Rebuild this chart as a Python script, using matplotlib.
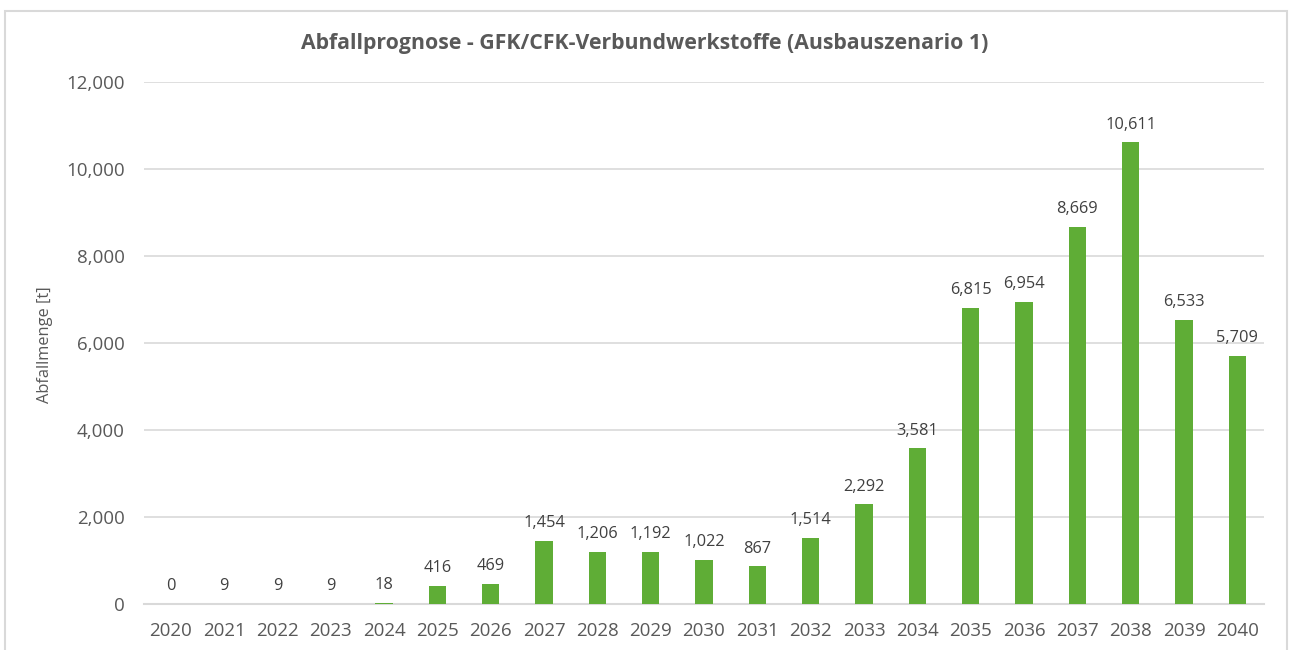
import matplotlib.pyplot as plt
import matplotlib.patches as mpatches
import numpy as np
from matplotlib.ticker import FuncFormatter

jahre = [str(j) for j in range(2020, 2041)]
abfall = [0, 9, 9, 9, 18, 416, 469, 1454, 1206, 1192, 1022, 867,
          1514, 2292, 3581, 6815, 6954, 8669, 10611, 6533, 5709]

textfarbe = '#595959'
balkenfarbe = '#5FAD36'
gitterfarbe = '#D9D9D9'

plt.rcParams['font.family'] = ['Open Sans', 'DejaVu Sans']

fig = plt.figure(figsize=(12.9, 6.5), dpi=100)
# Rahmen um das Diagramm
fig.patches.append(mpatches.Rectangle((5/1290, -0.1), 1282/1290, 1.1 - 11/650,
                                      transform=fig.transFigure, fill=False,
                                      edgecolor=gitterfarbe, linewidth=1.5))

ax = fig.add_axes([144/1290, 1 - 604/650, 1120/1290, 522/650])
x = np.arange(len(jahre))
ax.bar(x, abfall, width=0.32, color=balkenfarbe, zorder=3)

for xi, v in zip(x, abfall):
    ax.annotate(f'{v:,}', (xi, v), xytext=(0, 7), textcoords='offset points',
                ha='center', va='bottom', fontsize=11.8, color='#404040')

ax.set_xlim(-0.5, len(jahre) - 0.5)
ax.set_ylim(0, 12000)
ax.set_yticks(np.arange(0, 12001, 2000))
ax.yaxis.set_major_formatter(FuncFormatter(lambda v, p: f'{int(v):,}'))
ax.set_xticks(x)
ax.set_xticklabels(jahre)
ax.tick_params(axis='both', length=0, labelsize=13.5, colors=textfarbe)
ax.tick_params(axis='x', pad=13)
ax.tick_params(axis='y', pad=14)
ax.grid(axis='y', color=gitterfarbe, linewidth=1.2, zorder=0)
for s in ['top', 'right', 'left']:
    ax.spines[s].set_visible(False)
ax.spines['bottom'].set_color(gitterfarbe)
ax.spines['bottom'].set_linewidth(1.5)

fig.text(45/1290, 1 - 345/650, 'Abfallmenge [t]', rotation=90,
         ha='center', va='center', fontsize=11.8, color=textfarbe)

fig.text(0.5, 1 - 43/650, 'Abfallprognose - GFK/CFK-Verbundwerkstoffe (Ausbauszenario 1)',
         ha='center', va='center', fontsize=15.3, fontweight='bold', color=textfarbe)

fig.savefig('out.png', dpi=100)
